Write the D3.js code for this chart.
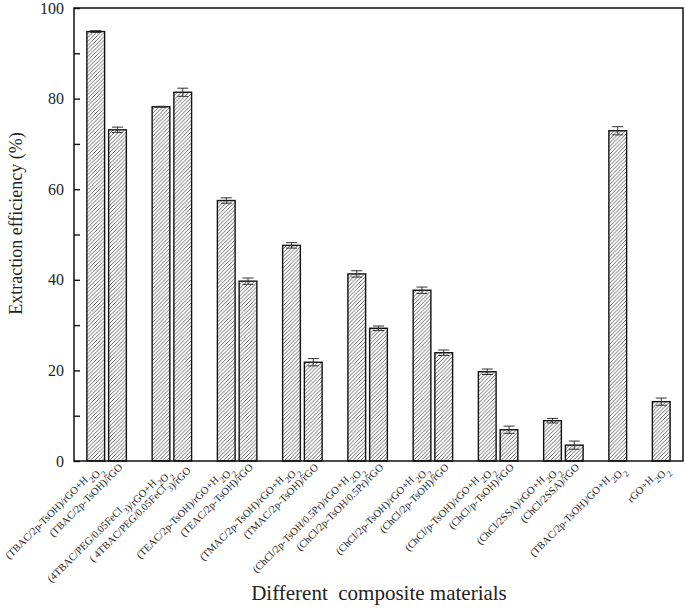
<!DOCTYPE html>
<html>
<head>
<meta charset="utf-8">
<script src="https://cdn.jsdelivr.net/npm/d3@7"></script>
<style>
html,body{margin:0;padding:0;background:#fff;}
svg, svg text{font-family:"Liberation Serif",Tinos,"Times New Roman",Times,"DejaVu Serif",serif !important;}
svg{display:block;}
</style>
</head>
<body>
<svg id="chart" width="685" height="609"></svg>
<script>
// ---- data ----
const labels = [
  "(TBAC/2p-TsOH)/rGO+H_2O_2",
  "(TBAC/2p-TsOH)/rGO",
  "(4TBAC/PEG/0.05FeCl_3)/rGO+H_2O_2",
  "( 4TBAC/PEG/0.05FeCl_3)/rGO",
  "(TEAC/2p-TsOH)/rGO+H_2O_2",
  "(TEAC/2p-TsOH)/rGO",
  "(TMAC/2p-TsOH)/rGO+H_2O_2",
  "(TMAC/2p-TsOH)/rGO",
  "(ChCl/2p-TsOH/0.5Pr)/rGO+H_2O_2",
  "(ChCl/2p-TsOH/0.5Pr)/rGO",
  "(ChCl/2p-TsOH)/rGO+H_2O_2",
  "(ChCl/2p-TsOH)/rGO",
  "(ChCl/p-TsOH)/rGO+H_2O_2",
  "(ChCl/p-TsOH)/rGO",
  "(ChCl/2SSA)/rGO+H_2O_2",
  "(ChCl/2SSA)/rGO",
  "(TBAC/2p-TsOH)/GO+H_2O_2",
  "rGO+H_2O_2"
];
// slot position of each bar along the x axis (pairs separated by an empty slot)
const slots = [0,1,3,4,6,7,9,10,12,13,15,16,18,19,21,22,24,26];
const values = [94.8,73.1,78.2,81.4,57.5,39.7,47.6,21.8,41.3,29.3,37.7,23.9,19.7,6.9,8.9,3.5,72.9,13.1];
const errors = [0.2,0.6,0.1,0.9,0.6,0.7,0.6,0.8,0.7,0.5,0.7,0.6,0.6,0.8,0.5,0.9,0.9,0.8];
const yTicks = [0,10,20,30,40,50,60,70,80,90,100];
const yTitle = "Extraction efficiency (%)";
const xTitle = "Different  composite materials";

// ---- layout ----
const L = 74, R = 683, T = 8, B = 461;
const svg = d3.select("#chart");

const x = d3.scaleLinear().domain([-1, 27]).range([L, R]);
const y = d3.scaleLinear().domain([0, 100]).range([B, T]);
const barW = (x(1) - x(0)) * 0.815;

// hatch pattern
const defs = svg.append("defs");
const pat = defs.append("pattern")
  .attr("id", "hatch").attr("patternUnits", "userSpaceOnUse")
  .attr("width", 3.8).attr("height", 3.8);
pat.append("rect").attr("width", 3.8).attr("height", 3.8).attr("fill", "#fff");
pat.append("path")
  .attr("d", "M-1,1 L1,-1 M0,3.8 L3.8,0 M2.8,4.8 L4.8,2.8")
  .attr("stroke", "#444").attr("stroke-width", 0.8);

// bars
const idx = d3.range(values.length);
svg.append("g").selectAll("rect").data(idx).join("rect")
  .attr("x", i => x(slots[i]) - barW / 2)
  .attr("width", barW)
  .attr("y", i => y(values[i]))
  .attr("height", i => y(0) - y(values[i]))
  .attr("fill", "url(#hatch)")
  .attr("stroke", "#111").attr("stroke-width", 1.4);

// error bars
const capW = 5.5;
const eg = svg.append("g").attr("stroke", "#333").attr("stroke-width", 1).attr("fill", "none");
eg.selectAll("path").data(idx).join("path")
  .attr("d", i => {
    const cx = x(slots[i]), y1 = y(values[i] + errors[i]), y0 = y(values[i] - errors[i]);
    return `M${cx - capW},${y1}H${cx + capW}M${cx},${y1}V${y0}M${cx - capW},${y0}H${cx + capW}`;
  });

// y axis
const yAxis = d3.axisLeft(y).tickValues(yTicks)
  .tickFormat(d => d % 20 === 0 ? d : "")
  .tickSizeInner(-6).tickSizeOuter(0).tickPadding(10);
const yg = svg.append("g").attr("transform", `translate(${L},0)`).call(yAxis);
yg.attr("font-family", null);
yg.select(".domain").remove();
yg.selectAll(".tick line").attr("stroke", "#111").attr("stroke-width", 1.4);
yg.selectAll(".tick text").attr("font-size", 16).attr("fill", "#222");

// frame
svg.append("rect").attr("x", L).attr("y", T).attr("width", R - L).attr("height", B - T)
  .attr("fill", "none").attr("stroke", "#111").attr("stroke-width", 1.5);

// category labels with subscripts
const lg = svg.append("g").attr("font-size", 10.5).attr("fill", "#222");
idx.forEach(i => {
  const t = lg.append("text")
    .attr("text-anchor", "end")
    .attr("transform", `translate(${x(slots[i]) + 5.5},${B + 7}) rotate(-45)`);
  const parts = labels[i].split(/(_\d)/).filter(s => s.length);
  parts.forEach(p => {
    if (p[0] === "_") {
      t.append("tspan").attr("font-size", 8.5).attr("dx", 0.8).attr("dy", 4.5).text(p.slice(1));
      t.append("tspan").attr("dy", -4.5).text("");
    } else {
      t.append("tspan").text(p);
    }
  });
});

// axis titles
svg.append("text")
  .attr("x", 379).attr("y", 600)
  .attr("text-anchor", "middle").attr("font-size", 21).attr("fill", "#222")
  .style("white-space", "pre")
  .text(xTitle);

svg.append("text")
  .attr("transform", `translate(22,${(T + B) / 2 - 11}) rotate(-90)`)
  .attr("text-anchor", "middle").attr("font-size", 18).attr("fill", "#222")
  .text(yTitle);
</script>
</body>
</html>
